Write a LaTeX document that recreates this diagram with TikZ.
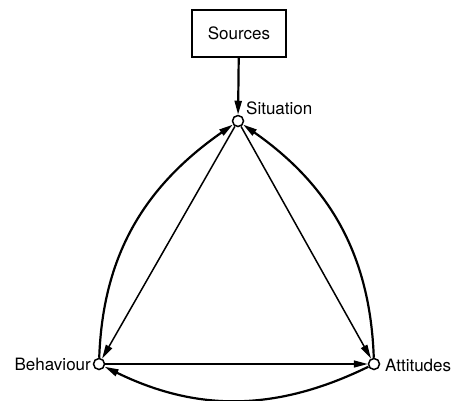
\documentclass[tikz,border=0pt]{standalone}
\usepackage{fontspec}
\setmainfont{TeX Gyre Heros}
\usetikzlibrary{arrows.meta}
\begin{document}
\begin{tikzpicture}[x=1pt,y=-1pt,
  dot/.style={circle,draw,line width=1.5pt,fill=white,minimum size=11pt,inner sep=0pt},
  lbl/.style={font=\fontsize{17}{20}\selectfont,inner sep=0pt},
  box/.style={draw,line width=1.2pt,minimum width=94pt,minimum height=47pt,font=\fontsize{17}{20}\selectfont},
  thin/.style={line width=1.5pt,-{Triangle[length=14pt,width=7pt]}},
  thick/.style={line width=2.2pt,-{Triangle[length=14pt,width=7pt]}}]
\useasboundingbox (0,0) rectangle (460,400);
\node[box] (src) at (239,33.5) {Sources};
\node[dot] (sit) at (238,121) {};
\node[dot] (beh) at (99,364) {};
\node[dot] (att) at (374,364) {};
\node[lbl,anchor=west] (sitl) at (246,108) {Situation};
\node[lbl,anchor=east] (behl) at (91,364) {Behaviour};
\node[lbl,anchor=west] (attl) at (385,365) {Attitudes};
\draw[thick] (src) -- (sit);
\draw[thin] (sit) -- (beh);
\draw[thin] (sit) -- (att);
\draw[thin] (beh) -- (att);
\draw[thick] (beh) to[out=88,in=215] (sit);
\draw[thick] (att) to[out=92,in=-35] (sit);
\draw[thick] (att) to[out=206,in=-26] (beh);
\end{tikzpicture}
\end{document}
